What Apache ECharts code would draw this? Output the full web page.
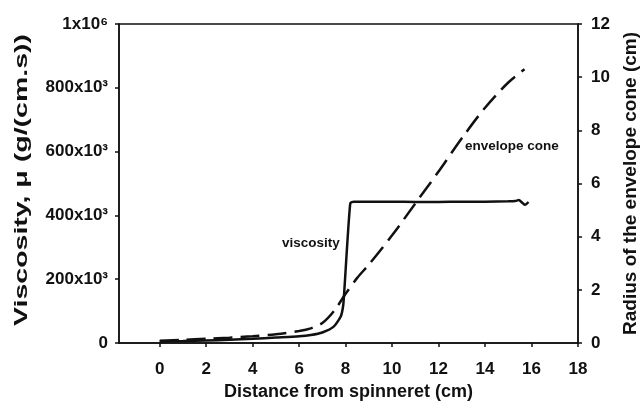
<!DOCTYPE html>
<html><head><meta charset="utf-8">
<script src="https://cdn.jsdelivr.net/npm/echarts@6/dist/echarts.min.js"></script>
<style>html,body{margin:0;padding:0;background:#fff}#c{width:642px;height:404px}</style>
</head><body><div id="c"></div>
<script>
// Data
const xTicks = [0, 2, 4, 6, 8, 10, 12, 14, 16, 18];
const viscosityX = [0, 1, 2, 3, 4, 5, 6, 6.5, 7, 7.5, 7.8, 7.9, 7.95, 8.2, 8.35, 9, 10, 11, 12, 13, 14, 15, 15.3, 15.45, 15.6, 15.72, 15.87];
const viscosityY = [5000, 6000, 8000, 10000, 13000, 17000, 21000, 25000, 33000, 52000, 85000, 120000, 170000, 438000, 443000, 443000, 443000, 442000, 442000, 443000, 443000, 444000, 445000, 448000, 440000, 433000, 442000];
const coneX = [0, 1, 2, 3, 4, 5, 6, 6.5, 7, 7.5, 8, 8.5, 9, 10, 11, 12, 13, 14, 15, 15.7];
const coneY = [0.08, 0.12, 0.16, 0.2, 0.25, 0.33, 0.45, 0.55, 0.75, 1.2, 1.85, 2.45, 2.95, 4.05, 5.25, 6.45, 7.7, 8.85, 9.8, 10.3];
const leftTicks = {0: '0', 200000: '200x10³', 400000: '400x10³', 600000: '600x10³', 800000: '800x10³', 1000000: '1x10⁶'};
const leftTitle = 'Viscosity, μ (g/(cm.s))';
const rightTitle = 'Radius of the envelope cone (cm)';
const xTitle = 'Distance from spinneret (cm)';

const ink = '#111';
const font = 'Liberation Sans, Arial, sans-serif';
const chart = echarts.init(document.getElementById('c'));
chart.setOption({
  animation: false,
  backgroundColor: '#fff',
  grid: {left: 119, right: 64, top: 24, bottom: 61, outerBoundsMode: 'none', containLabel: false,
         show: true, borderColor: ink, borderWidth: 1.5},
  xAxis: {
    type: 'value', min: -1.75, max: 18,
    name: xTitle, nameLocation: 'middle', nameGap: 38,
    nameTextStyle: {color: ink, fontSize: 18, fontWeight: 'bold', fontFamily: font},
    axisLine: {onZero: false, lineStyle: {color: ink, width: 1.5}},
    axisTick: {customValues: xTicks, length: 4, lineStyle: {color: ink, width: 1.5}},
    axisLabel: {customValues: xTicks, color: ink, fontSize: 17, fontWeight: 'bold', fontFamily: font, margin: 18},
    splitLine: {show: false}
  },
  yAxis: [{
    type: 'value', min: 0, max: 1000000, interval: 200000, position: 'left',
    axisLine: {show: true, onZero: false, lineStyle: {color: ink, width: 1.5}},
    axisTick: {show: true, length: 4, lineStyle: {color: ink, width: 1.5}},
    axisLabel: {color: ink, fontSize: 17, fontWeight: 'bold', fontFamily: font, margin: 11, formatter: v => leftTicks[v]},
    splitLine: {show: false}
  }, {
    type: 'value', min: 0, max: 12, interval: 2, position: 'right',
    name: rightTitle, nameLocation: 'middle', nameGap: 42, nameRotate: 90,
    nameTextStyle: {color: ink, fontSize: 19, fontWeight: 'bold', fontFamily: font},
    axisLine: {show: true, onZero: false, lineStyle: {color: ink, width: 1.5}},
    axisTick: {show: true, length: 4, lineStyle: {color: ink, width: 1.5}},
    axisLabel: {color: ink, fontSize: 17, fontWeight: 'bold', fontFamily: font, margin: 13},
    splitLine: {show: false}
  }],
  series: [{
    name: 'viscosity', type: 'line', yAxisIndex: 0, showSymbol: false, smooth: 0.2,
    data: viscosityX.map((x, i) => [x, viscosityY[i]]),
    lineStyle: {color: ink, width: 2.5}
  }, {
    name: 'envelope cone', type: 'line', yAxisIndex: 1, showSymbol: false, smooth: 0.3,
    data: coneX.map((x, i) => [x, coneY[i]]),
    lineStyle: {color: ink, width: 2.5, type: [19, 8]}
  }],
  graphic: [
    {type: 'text', x: 22, y: 180, rotation: Math.PI / 2, scaleX: 1.5,
     style: {text: leftTitle, fill: ink, font: 'bold 19px ' + font, align: 'center', verticalAlign: 'middle'}},
    {type: 'text', left: 282, top: 236, style: {text: 'viscosity', fill: ink, font: 'bold 13.5px ' + font}},
    {type: 'text', left: 465, top: 139, style: {text: 'envelope cone', fill: ink, font: 'bold 13.5px ' + font}}
  ]
});
</script></body></html>
